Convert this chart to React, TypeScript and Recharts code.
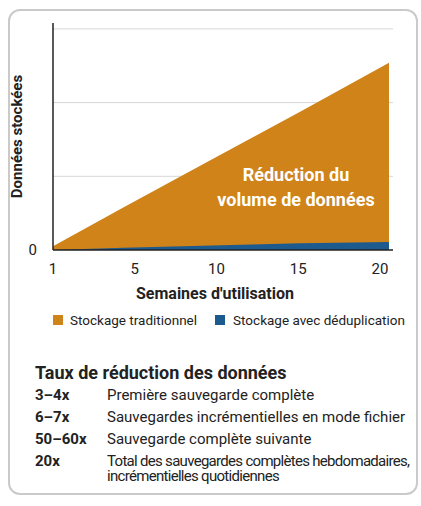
import { AreaChart, Area, XAxis, YAxis, CartesianGrid, Label } from 'recharts'

// weeks of use
const weeks = [1, 5, 10, 15, 20]
const traditional = [0.05, 0.58, 1.23, 1.88, 2.54]
const dedup = [0.0, 0.03, 0.06, 0.09, 0.11]
// the printed week labels sit evenly spaced under the plot
const xTicks = [1, 5, 10, 15, 20]
const yTicks = [0, 1, 2, 3]

const ratios = ['3–4x', '6–7x', '50–60x', '20x']
const ratioTexts = [
  'Première sauvegarde complète',
  'Sauvegardes incrémentielles en mode fichier',
  'Sauvegarde complète suivante',
  'Total des sauvegardes complètes hebdomadaires,\nincrémentielles quotidiennes',
]

const ORANGE = '#CF8318'
const BLUE = '#1D5A8E'
const FONT = 'Roboto, "Noto Sans", sans-serif'

const data = weeks.map((w, i) => ({ week: w, trad: traditional[i], dedup: dedup[i] }))
const labelIdx = xTicks.map((_, i) => i)

export default function App() {
  return (
    <div style={{ position: 'absolute', left: 0, top: 0, width: 421, height: 506, fontFamily: FONT, color: '#222' }}>
      <div
        style={{
          position: 'absolute', left: 8, top: 9, width: 406, height: 482,
          border: '2px solid #cacaca', borderRadius: 12,
        }}
      />
      <div style={{ position: 'absolute', left: 0, top: 0 }}>
        <AreaChart width={421} height={310} data={data} margin={{ top: 23, right: 28, left: 8, bottom: 10 }}>
          <CartesianGrid vertical={false} xAxisId="lbl" horizontalValues={[1, 2, 3]} stroke="#d6d6d6" strokeWidth={1} />
          <XAxis
            xAxisId="lbl"
            type="number"
            domain={[0, xTicks.length - 1]}
            ticks={labelIdx}
            tickFormatter={(i: number) => String(xTicks[i])}
            padding={{ left: 0, right: 13 }}
            tickLine={false}
            tickSize={0}
            tickMargin={13}
            height={50}
            stroke="#222"
            strokeWidth={1.5}
            tick={{ fill: '#222', fontSize: 15, fontFamily: FONT }}
          >
            <Label
              value="Semaines d'utilisation"
              position="insideTop"
              offset={38}
              dx={-8}
              style={{ fill: '#222', fontSize: 16, fontWeight: 700, fontFamily: FONT }}
            />
          </XAxis>
          <XAxis xAxisId="data" dataKey="week" type="number" domain={[1, 20]} padding={{ left: 0, right: 4 }} height={0} hide />
          <YAxis
            type="number"
            domain={[0, 3.08]}
            ticks={yTicks}
            width={45}
            tickLine={false}
            tickSize={0}
            tickMargin={16}
            stroke="#222"
            strokeWidth={1.5}
            tickFormatter={(v: number) => (v === 0 ? '0' : '')}
            tick={{ fill: '#222', fontSize: 15, fontFamily: FONT }}
          >
            <Label
              value="Données stockées"
              angle={-90}
              position="insideLeft"
              offset={9}
              style={{ textAnchor: 'middle', fill: '#222', fontSize: 15, fontWeight: 700, fontFamily: FONT }}
            />
          </YAxis>
          <Area
            xAxisId="data"
            type="linear"
            dataKey="trad"
            stroke="none"
            fill={ORANGE}
            fillOpacity={1}
            isAnimationActive={false}
          />
          <Area
            xAxisId="data"
            type="linear"
            dataKey="dedup"
            stroke="none"
            fill={BLUE}
            fillOpacity={1}
            isAnimationActive={false}
          />
        </AreaChart>
      </div>

      <div
        style={{
          position: 'absolute', left: 196, top: 162, width: 200, textAlign: 'center',
          color: '#fff', fontWeight: 700, fontSize: 18, lineHeight: '25px',
        }}
      >
        Réduction du<br />volume de données
      </div>

      <div style={{ position: 'absolute', top: 312, left: 53, display: 'flex', alignItems: 'center', fontSize: 13.5 }}>
        <span style={{ width: 10, height: 10, background: ORANGE, display: 'inline-block', marginRight: 7 }} />
        <span>Stockage traditionnel</span>
        <span style={{ width: 10, height: 10, background: BLUE, display: 'inline-block', marginLeft: 18, marginRight: 8 }} />
        <span>Stockage avec déduplication</span>
      </div>

      <div style={{ position: 'absolute', left: 35, top: 362, fontSize: 18, fontWeight: 700 }}>
        Taux de réduction des données
      </div>
      {ratios.map((r, i) => (
        <div key={r} style={{ position: 'absolute', left: 35, top: 388 + i * 22, display: 'flex', fontSize: 15, lineHeight: '15px' }}>
          <span style={{ width: 72, fontWeight: 700 }}>{r}</span>
          <span style={{ whiteSpace: 'pre', letterSpacing: i === 3 ? -0.7 : 0 }}>{ratioTexts[i]}</span>
        </div>
      ))}
    </div>
  )
}
